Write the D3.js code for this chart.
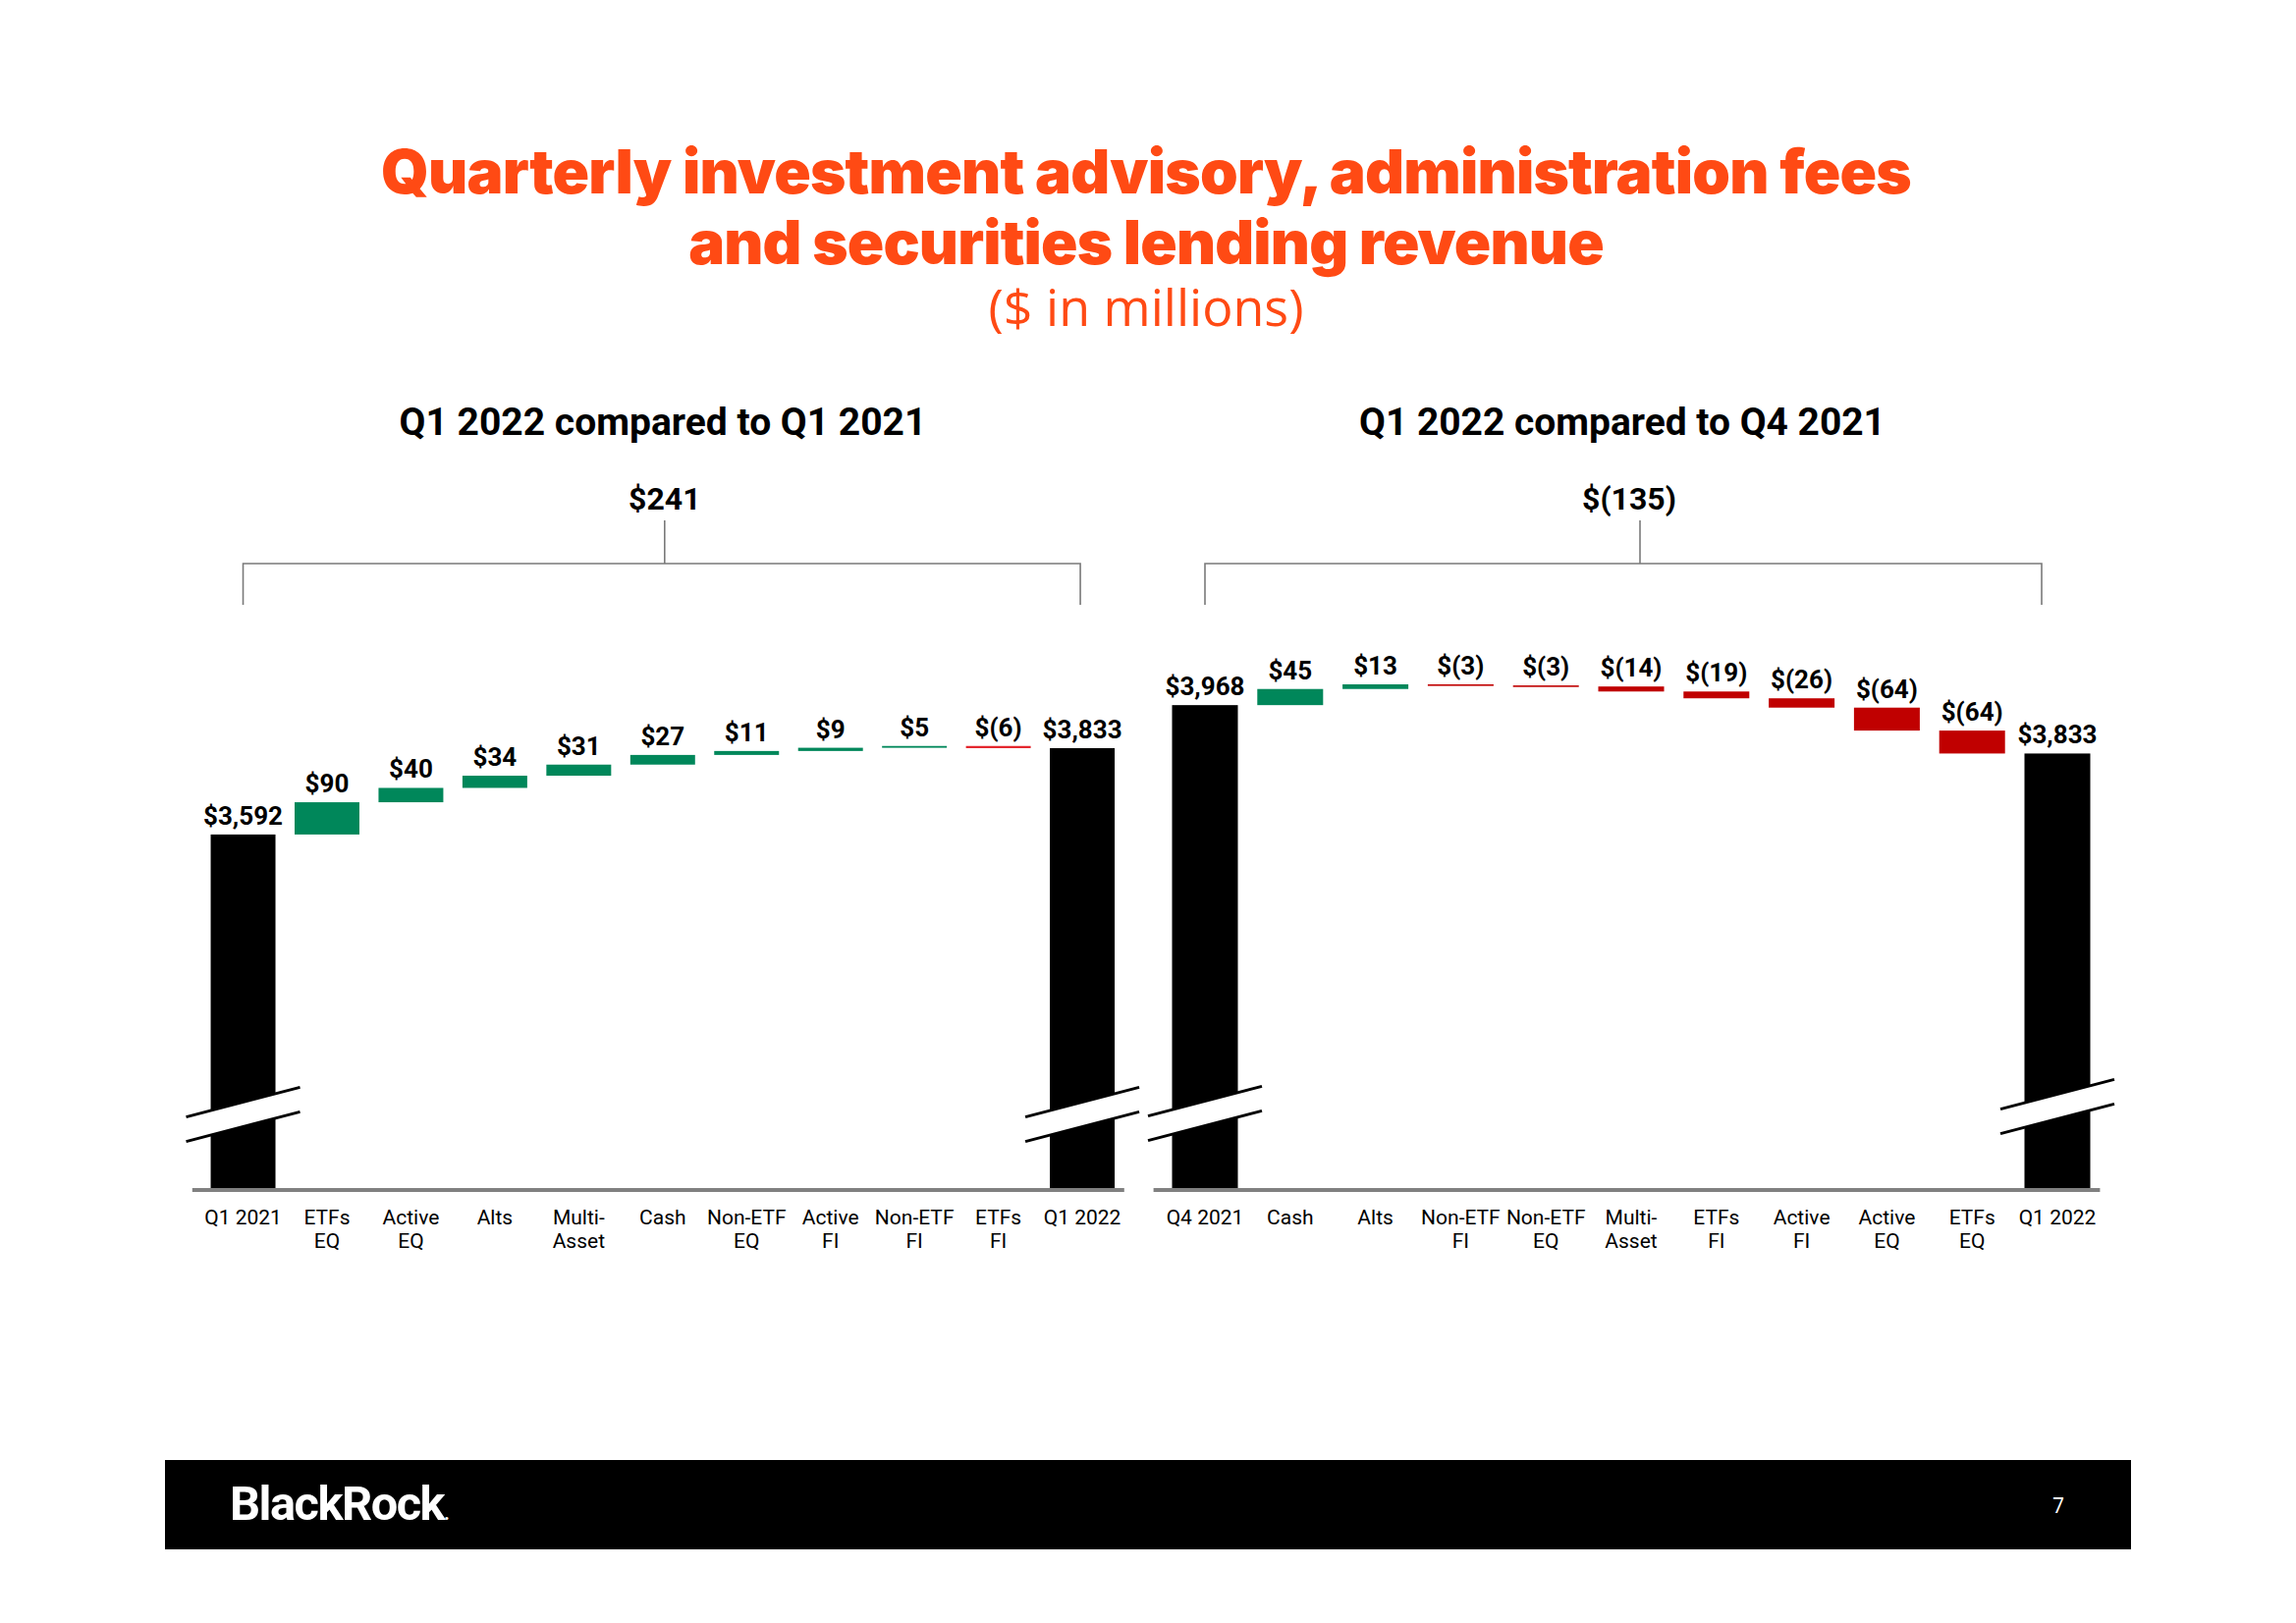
<!DOCTYPE html>
<html>
<head>
<meta charset="utf-8">
<script src="https://cdn.jsdelivr.net/npm/d3@7"></script>
<style>
  html, body { margin: 0; padding: 0; background: #fff; }
  svg { display: block; }
</style>
</head>
<body>
<svg id="chart" width="2338" height="1653"></svg>
<script>
// ---------- DATA ----------
const leftCategories = ["Q1 2021", "ETFs\nEQ", "Active\nEQ", "Alts", "Multi-\nAsset", "Cash", "Non-ETF\nEQ", "Active\nFI", "Non-ETF\nFI", "ETFs\nFI", "Q1 2022"];
const leftValues = [3592, 90, 40, 34, 31, 27, 11, 9, 5, -6, 3833];
const leftIsTotal = [true, false, false, false, false, false, false, false, false, false, true];

const rightCategories = ["Q4 2021", "Cash", "Alts", "Non-ETF\nFI", "Non-ETF\nEQ", "Multi-\nAsset", "ETFs\nFI", "Active\nFI", "Active\nEQ", "ETFs\nEQ", "Q1 2022"];
const rightValues = [3968, 45, 13, -3, -3, -14, -19, -26, -64, -64, 3833];
const rightIsTotal = [true, false, false, false, false, false, false, false, false, false, true];

const titleLines = ["Quarterly investment advisory, administration fees", "and securities lending revenue"];
const unitsText = "($ in millions)";
const leftSubtitle = "Q1 2022 compared to Q1 2021";
const rightSubtitle = "Q1 2022 compared to Q4 2021";
const pageNumber = "7";
const logoText = "BlackRock";

// ---------- STYLE ----------
const ORANGE = "#ff4a14";
const GREEN = "#00875a";
const BLACK = "#000000";
const GRAY = "#808080";
const BOLD_FONT = "Roboto, 'Open Sans', sans-serif";
const TITLE_FONT = "Inter, Roboto, sans-serif";

const svg = d3.select("#chart");

function fitText(sel, width) {
  const node = sel.node();
  const fs = parseFloat(sel.attr("font-size"));
  const w = node.getComputedTextLength();
  if (w > 0) sel.attr("font-size", (fs * width / w).toFixed(2));
  return sel;
}

// ---------- TITLES ----------
const title = svg.append("text").attr("text-anchor", "middle")
  .attr("font-family", TITLE_FONT).attr("font-weight", 900)
  .attr("fill", ORANGE).attr("letter-spacing", -0.8);
fitText(title.append("tspan").attr("x", 1167).attr("y", 197).attr("font-size", 62).text(titleLines[0]), 1558);
fitText(title.append("tspan").attr("x", 1167).attr("y", 269).attr("font-size", 62).text(titleLines[1]), 932);
fitText(svg.append("text").attr("x", 1167).attr("y", 332).attr("text-anchor", "middle")
  .attr("font-family", "'Open Sans', Roboto, sans-serif").attr("font-weight", 400).attr("font-size", 44)
  .attr("fill", ORANGE).text(unitsText), 321);

// ---------- FORMATTERS ----------
const fmtComma = d3.format(",");
function fmtTotal(v) { return "$" + fmtComma(v); }
function fmtDelta(v) { return v < 0 ? "$(" + fmtComma(-v) + ")" : "$" + fmtComma(v); }

// ---------- PANEL ----------
const BASE_Y = 1212;
const PX_PER_UNIT = 0.365;

function drawPanel(cfg) {
  const n = cfg.categories.length;
  const x = d3.scaleBand().domain(d3.range(n)).range(cfg.xRange)
    .paddingInner(0.228).paddingOuter(0.114);
  const y = d3.scaleLinear().domain(cfg.yDomain)
    .range([BASE_Y, BASE_Y - (cfg.yDomain[1] - cfg.yDomain[0]) * PX_PER_UNIT]);
  const bw = x.bandwidth();
  const cx = i => x(i) + bw / 2;

  // waterfall segments
  let cum = 0;
  const segs = cfg.values.map((v, i) => {
    let s, e;
    if (cfg.isTotal[i]) { s = cfg.yDomain[0]; e = v; cum = v; }
    else { s = cum; e = cum + v; cum = e; }
    return { i, v, s, e, total: cfg.isTotal[i] };
  });

  const g = svg.append("g");

  // bars
  g.selectAll("rect.bar").data(segs).join("rect")
    .attr("class", "bar")
    .attr("x", d => x(d.i))
    .attr("width", bw)
    .attr("y", d => y(Math.max(d.s, d.e)))
    .attr("height", d => Math.max(Math.abs(y(d.s) - y(d.e)), 1.6))
    .attr("fill", d => d.total ? BLACK : (d.v >= 0 ? GREEN : cfg.negColor));

  // value labels
  g.selectAll("text.val").data(segs).join("text")
    .attr("class", "val")
    .attr("x", d => cx(d.i))
    .attr("y", d => y(Math.max(d.s, d.e)) - 10)
    .attr("text-anchor", "middle")
    .attr("font-family", BOLD_FONT).attr("font-weight", 700).attr("font-size", 26)
    .attr("fill", BLACK)
    .text(d => d.total ? fmtTotal(d.v) : fmtDelta(d.v));

  // axis break marks on total bars
  const slope = 30 / 115, half = 12.5;
  segs.filter(d => d.total).forEach((d, k) => {
    const c = cx(d.i);
    const yc = BASE_Y - cfg.breakOffsets[k];
    const x0 = c - 58, x1 = c + 58;
    const up = xx => yc - half - slope * (xx - c);
    const lo = xx => yc + half - slope * (xx - c);
    g.append("path")
      .attr("d", `M${x0},${up(x0)}L${x1},${up(x1)}L${x1},${lo(x1)}L${x0},${lo(x0)}Z`)
      .attr("fill", "#fff");
    [up, lo].forEach(f => g.append("line")
      .attr("x1", x0).attr("y1", f(x0)).attr("x2", x1).attr("y2", f(x1))
      .attr("stroke", BLACK).attr("stroke-width", 3));
  });

  // category axis
  const axis = d3.axisBottom(x).tickSize(0).tickFormat(i => cfg.categories[i]);
  const ag = g.append("g").attr("transform", `translate(0,${BASE_Y})`).call(axis);
  ag.select(".domain").remove();
  ag.selectAll(".tick text").each(function (i) {
    const t = d3.select(this);
    const lines = cfg.categories[i].split("\n");
    t.text(null).attr("y", 0).attr("dy", null)
      .attr("font-family", BOLD_FONT).attr("font-weight", 400).attr("font-size", 21)
      .attr("fill", BLACK);
    lines.forEach((ln, j) => t.append("tspan").attr("x", 0).attr("y", 35 + j * 24).text(ln));
  });
  g.append("line")
    .attr("x1", cfg.xRange[0] - 9).attr("x2", cfg.xRange[1])
    .attr("y1", BASE_Y).attr("y2", BASE_Y)
    .attr("stroke", GRAY).attr("stroke-width", 4);

  // subtitle
  fitText(svg.append("text").attr("x", cfg.subX).attr("y", 443).attr("text-anchor", "middle")
    .attr("font-family", BOLD_FONT).attr("font-weight", 700).attr("font-size", 36)
    .attr("fill", BLACK).text(cfg.subtitle), cfg.subWidth);

  // bracket with difference
  const bx0 = cx(0), bx1 = cx(n - 1) + cfg.bracketEndShift;
  const stemX = (bx0 + bx1) / 2 + cfg.stemShift;
  const bracket = svg.append("g").attr("stroke", "#7a7a7a").attr("stroke-width", 1.6).attr("fill", "none");
  bracket.append("path").attr("d", `M${bx0},616V574H${bx1}V616`);
  bracket.append("line").attr("x1", stemX).attr("x2", stemX).attr("y1", 530).attr("y2", 574);
  const diff = cfg.values[n - 1] - cfg.values[0];
  svg.append("text").attr("x", stemX + cfg.diffLabelShift).attr("y", 519).attr("text-anchor", "middle")
    .attr("font-family", BOLD_FONT).attr("font-weight", 700).attr("font-size", 32)
    .attr("fill", BLACK).text(fmtDelta(diff));
}

drawPanel({
  categories: leftCategories, values: leftValues, isTotal: leftIsTotal,
  xRange: [204.8, 1144.8], yDomain: [2600, 4000], negColor: "#e3232a",
  breakOffsets: [77, 77], subtitle: leftSubtitle, subX: 675, subWidth: 537,
  bracketEndShift: -2, stemShift: 3, diffLabelShift: 0
});
drawPanel({
  categories: rightCategories, values: rightValues, isTotal: rightIsTotal,
  xRange: [1183.6, 2138.4], yDomain: [2615, 4015], negColor: "#c00000",
  breakOffsets: [78, 85], subtitle: rightSubtitle, subX: 1652, subWidth: 536,
  bracketEndShift: -16, stemShift: 17, diffLabelShift: -11
});

// ---------- FOOTER ----------
svg.append("rect").attr("x", 168).attr("y", 1487).attr("width", 2002).attr("height", 91).attr("fill", BLACK);
const logo = svg.append("text").attr("x", 234).attr("y", 1548)
  .attr("font-family", BOLD_FONT).attr("font-weight", 700).attr("font-size", 42)
  .attr("letter-spacing", -1.5).attr("fill", "#fff");
logo.append("tspan").text(logoText);
logo.append("tspan").attr("font-size", 20).text(".");
fitText(logo, 221);
svg.append("text").attr("x", 2096).attr("y", 1541).attr("text-anchor", "middle")
  .attr("font-family", "'Open Sans', sans-serif").attr("font-size", 21).attr("fill", "#fff").text(pageNumber);
</script>
</body>
</html>
